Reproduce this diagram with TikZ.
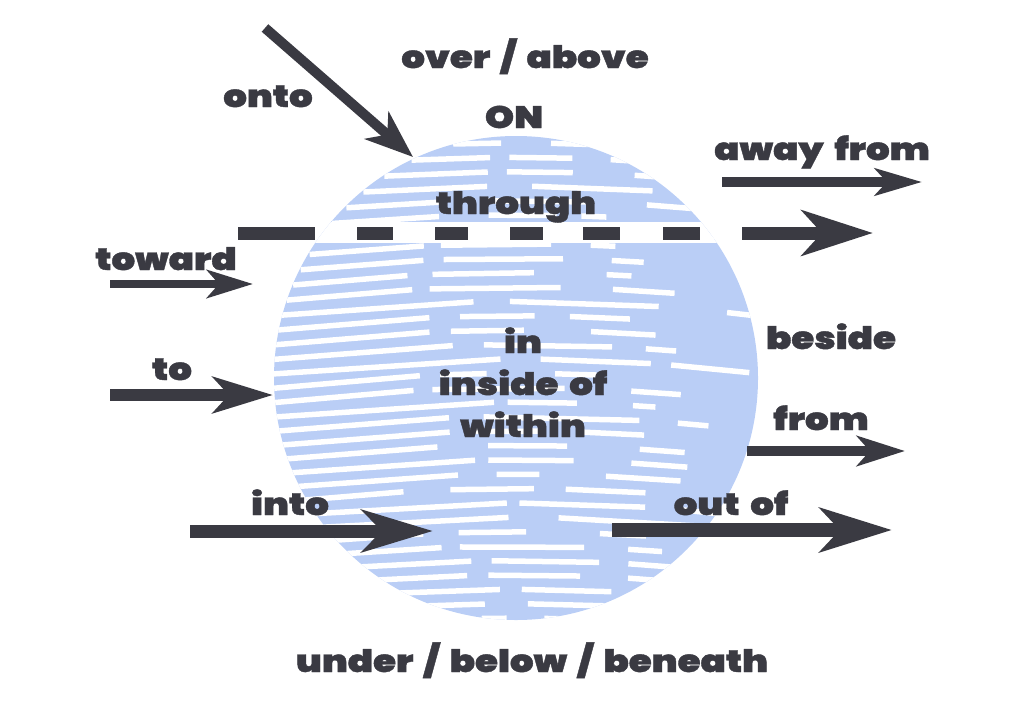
\documentclass[tikz,border=0pt]{standalone}
\usepackage{fontspec}
\setmainfont{Poppins Black}[FakeStretch=1.2,FakeBold=1.2,WordSpace=1.7]
\usetikzlibrary{arrows.meta,calc,math}

\definecolor{ink}{RGB}{58,58,66}
\definecolor{globeblue}{RGB}{186,206,246}

\tikzset{
  word/.style={text=ink,font=\fontsize{31}{31}\selectfont,inner sep=0pt,anchor=base},
  shaft/.style={draw=ink,line width=#1},
  streak/.style={white,line width=5.5pt},
}

\begin{document}
\begin{tikzpicture}[x=1pt,y=-1pt]
  \useasboundingbox (0,0) rectangle (1024,725);

  % the globe and its white streaks
  \coordinate (globe) at (516,378);
  \fill[globeblue] (globe) circle[radius=242];
  \begin{scope}
    \clip (globe) circle[radius=242];
    \pgfmathsetseed{11}
    \foreach \r in {0,...,33} {
      \tikzmath{
        real \yy, \ww, \xl, \xa, \xb, \xc, \xd, \xe;
        real \yl, \ya, \yb, \yc, \yd, \ye;
        \yy = 143 + 14.4*\r;
        \ww = 100*sqrt(max(0.01, 2.42^2 - ((\yy-378)/100)^2));
        \xl = 516 - \ww - 5;
        \xa = \xl + \ww*(0.5 + 0.5*rnd);
        \xb = \xa + 12 + 40*rnd;
        \xc = \xb + 40 + 0.6*\ww*rnd;
        \xd = \xc + 20 + 60*rnd;
        \xe = \xd + 20 + 70*rnd;
        \yl = \yy + 2.5*((\xl-516)/100)^2;
        \ya = \yy + 2.5*((\xa-516)/100)^2;
        \yb = \yy + 2.5*((\xb-516)/100)^2;
        \yc = \yy + 2.5*((\xc-516)/100)^2;
        \yd = \yy + 2.5*((\xd-516)/100)^2;
        \ye = \yy + 2.5*((\xe-516)/100)^2;
      }
      \draw[streak] (\xl,\yl) -- (\xa,\ya);
      \draw[streak] (\xb,\yb) -- (\xc,\yc);
      \draw[streak] (\xd,\yd) -- (\xe,\ye);
    }
    \fill[white] (200,222) rectangle (800,243);
  \end{scope}

  % labels
  \node[word] (over) at (525,68) {over / above};
  \node[word] (on) at (514,128) {ON};
  \node[word] (onto) at (268,107) {onto};
  \node[word] (through) at (516,214) {through};
  \node[word] (toward) at (166,270) {toward};
  \node[word] (to) at (172,380) {to};
  \node[word] (into) at (290,515) {into};
  \node[word] (in) at (523,353) {in};
  \node[word] (inside) at (523,395) {inside of};
  \node[word] (within) at (523,437) {within};
  \node[word] (away) at (822,160) {away from};
  \node[word] (beside) at (831,349) {beside};
  \node[word] (from) at (821,430) {from};
  \node[word] (outof) at (731,515) {out of};
  \node[word] (under) at (532,672) {under / below / beneath};

  % arrows
  \coordinate (onto-s) at (265,28);
  \coordinate (onto-e) at (413,157);
  \draw[shaft=10pt,-{Stealth[length=48pt,width=36pt,inset=14pt]}] (onto-s) -- (onto-e);

  \coordinate (thru-s) at (238,233);
  \coordinate (thru-e) at (873,233);
  \draw[shaft=13pt,dash pattern={on 77pt off 42pt on 36pt off 42pt on 33pt off 42pt on 33pt off 40pt on 37pt off 43pt on 37pt off 42pt on 400pt},
    -{Stealth[length=71pt,width=45pt,inset=20pt]}] (thru-s) -- (thru-e);

  \coordinate (toward-s) at (110,284);
  \coordinate (toward-e) at (253,284);
  \draw[shaft=8pt,-{Stealth[length=46pt,width=28pt,inset=12pt]}] (toward-s) -- (toward-e);

  \coordinate (to-s) at (110,395);
  \coordinate (to-e) at (273,395);
  \draw[shaft=12pt,-{Stealth[length=60pt,width=36pt,inset=16pt]}] (to-s) -- (to-e);

  \coordinate (into-s) at (190,531);
  \coordinate (into-e) at (433,531);
  \draw[shaft=13pt,-{Stealth[length=71pt,width=42pt,inset=20pt]}] (into-s) -- (into-e);

  \coordinate (away-s) at (722,182);
  \coordinate (away-e) at (922,182);
  \draw[shaft=10pt,-{Stealth[length=47pt,width=27pt,inset=12pt]}] (away-s) -- (away-e);

  \coordinate (from-s) at (747,451);
  \coordinate (from-e) at (905,451);
  \draw[shaft=10pt,-{Stealth[length=48pt,width=30pt,inset=13pt]}] (from-s) -- (from-e);

  \coordinate (outof-s) at (612,530);
  \coordinate (outof-e) at (892,530);
  \draw[shaft=14pt,-{Stealth[length=72pt,width=44pt,inset=20pt]}] (outof-s) -- (outof-e);
\end{tikzpicture}
\end{document}
